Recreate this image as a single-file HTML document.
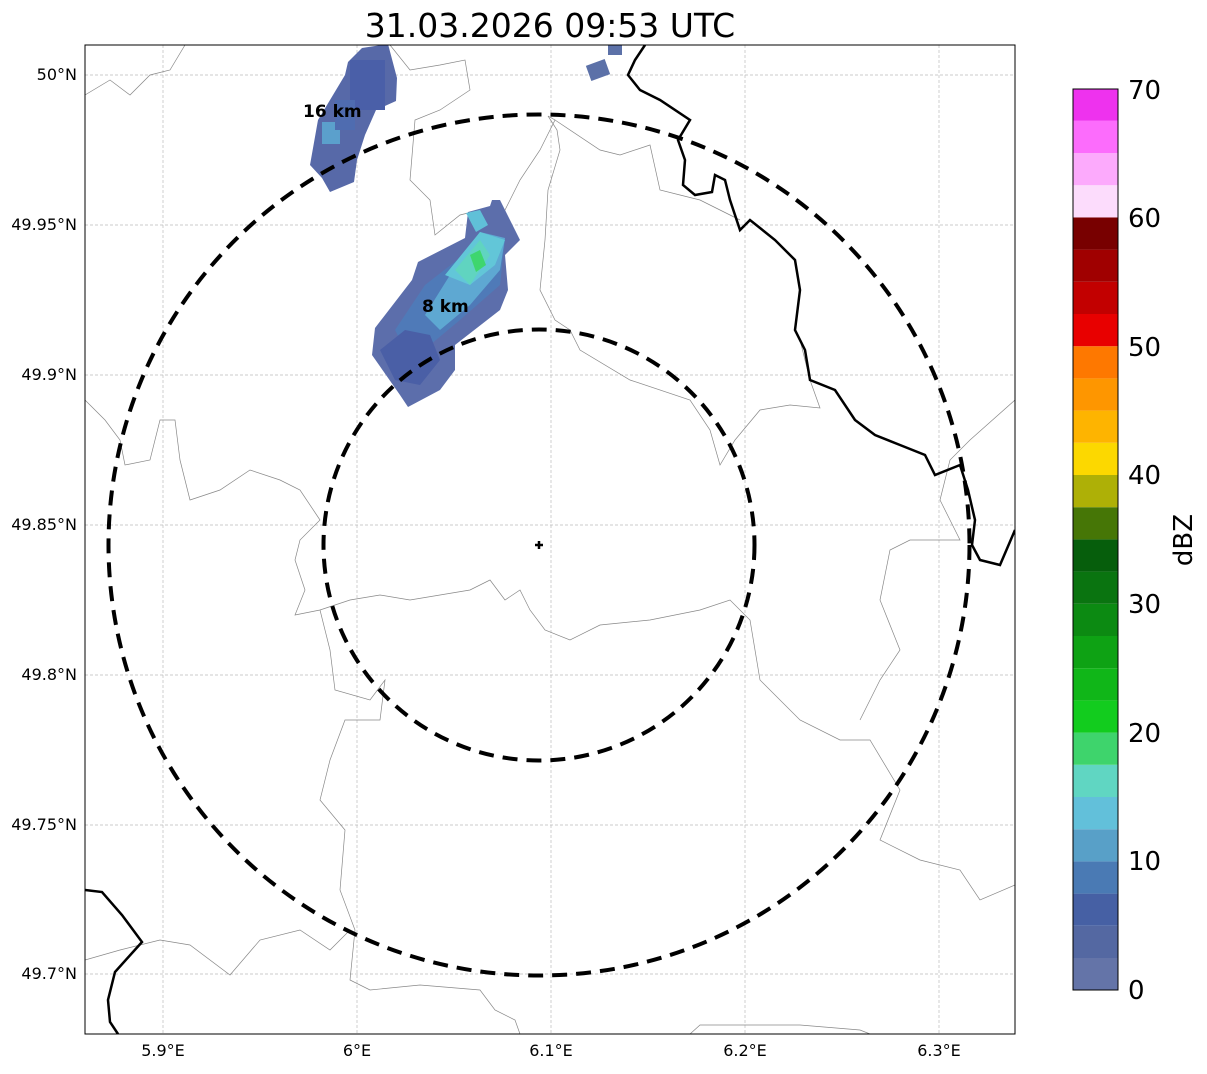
<!DOCTYPE html>
<html><head><style>
body{margin:0;background:#fff;}
</style></head><body>
<svg width="1207" height="1069" xmlns="http://www.w3.org/2000/svg" font-family="DejaVu Sans, Liberation Sans, sans-serif">
<rect width="1207" height="1069" fill="#fff"/>
<text x="550" y="37" font-size="33" text-anchor="middle">31.03.2026 09:53 UTC</text>
<clipPath id="c"><rect x="85" y="45" width="930" height="989"/></clipPath>
<g clip-path="url(#c)">
<g stroke="#bbb" stroke-width="0.7" stroke-dasharray="3,2">
<line x1="163" y1="45" x2="163" y2="1034"/><line x1="357" y1="45" x2="357" y2="1034"/><line x1="551" y1="45" x2="551" y2="1034"/><line x1="745" y1="45" x2="745" y2="1034"/><line x1="939" y1="45" x2="939" y2="1034"/>
<line x1="85" y1="75" x2="1015" y2="75"/><line x1="85" y1="225" x2="1015" y2="225"/><line x1="85" y1="375" x2="1015" y2="375"/><line x1="85" y1="525" x2="1015" y2="525"/><line x1="85" y1="675" x2="1015" y2="675"/><line x1="85" y1="825" x2="1015" y2="825"/><line x1="85" y1="974" x2="1015" y2="974"/>
</g>
<g fill="none" stroke="#888" stroke-width="0.7">
<path d="M85,95 L110,80 130,95 150,75 170,70 185,45"/>
<path d="M390,45 L410,70 440,65 465,60 470,90 440,110 415,120 410,180 430,200 435,235 460,215 480,210 505,210 520,180 540,150 555,120 548,116 557,130 560,150 548,190 545,240 540,290 555,320 570,330 580,350 630,380 690,400 710,430 720,465 735,440 760,410 790,405 820,408 810,380 800,340"/>
<path d="M555,120 L600,150 620,155 650,145 660,190 680,195 700,200 720,210 740,220"/>
<path d="M85,400 L105,420 120,440 125,465 150,460 160,420 175,420 180,460 190,500 220,490 250,470 280,480 300,490 320,520 300,540 295,560 305,590 295,615 320,610 350,600 380,595 410,600 440,595 470,590 490,580 505,600 520,590 530,610 545,630 570,640 600,625 650,620 700,610 730,600 750,620 760,680 800,720 840,740 870,740 900,790 880,840 920,860 960,870 980,900 1015,885"/>
<path d="M1015,400 L970,440 950,460 940,500 960,540 910,540 890,550 880,600 900,650 880,680 860,720"/>
<path d="M320,610 L330,650 335,690 370,700 385,680 380,720 345,720 330,760 320,800 345,830 340,890 355,930 350,980 370,990 420,985 480,990 495,1010 515,1020 520,1034"/>
<path d="M85,960 L120,950 160,940 190,945 230,975 260,940 300,930 330,950 350,930"/>
<path d="M690,1034 L700,1025 750,1025 800,1025 860,1030 870,1034"/>
</g>
<g fill="none" stroke="#000" stroke-width="2.5">
<path d="M645,45 L635,60 628,75 640,90 660,100 690,120 678,140 685,160 683,185 695,195 712,192 715,175 725,180 730,200 740,230 750,220 775,240 795,260 800,290 795,330 805,350 810,380 835,390 855,420 875,435 900,445 925,455 935,475 960,465 968,490 975,520 972,545 980,560 1000,565 1015,530"/>
<path d="M85,890 L102,892 122,915 142,942 115,972 108,1000 110,1022 118,1034"/>
</g>
<g>
<polygon points="362,48 388,44 397,78 396,101 376,110 365,135 357,160 354,182 330,192 322,178 310,165 318,120 345,75 348,62" fill="#5769a8"/>
<rect x="350" y="60" width="35" height="50" fill="#4a5fa8"/>
<rect x="322" y="122" width="18" height="22" fill="#5ba0cc"/>
<rect x="335" y="100" width="20" height="30" fill="#4f6cb0"/>
<rect x="588" y="62" width="20" height="16" fill="#5c71a8" transform="rotate(-20 598 70)"/>
<rect x="608" y="43" width="14" height="12" fill="#5c71a8"/>
<polygon points="375,328 412,280 418,262 465,238 468,212 490,206 492,200 500,200 520,240 505,255 508,290 500,310 455,345 455,370 440,390 408,407 400,395 372,355" fill="#5c6eab"/>
<polygon points="395,330 425,285 470,250 505,240 500,285 460,320 430,345 410,360" fill="#4f7ab8"/>
<polygon points="425,315 450,275 480,232 505,238 500,270 470,305 440,330" fill="#5ea8d2"/>
<polygon points="445,275 480,232 505,240 495,265 470,285" fill="#62c6d8"/>
<polygon points="455,270 480,240 490,255 470,285" fill="#60d4c0"/>
<polygon points="470,255 480,250 486,265 476,272" fill="#3ed66e"/>
<polygon points="380,350 405,330 430,335 440,360 420,385 395,380" fill="#4a5fa6"/>
<polygon points="466,213 480,210 488,225 476,232" fill="#60c0d8"/>
</g>
<g fill="none" stroke="#000" stroke-width="4" stroke-dasharray="15,9">
<circle cx="539" cy="545" r="430.5"/>
<circle cx="539" cy="545" r="215.5"/>
</g>
<path d="M535,545 h8 M539,541 v8" stroke="#000" stroke-width="2.5"/>
<text x="303" y="117" font-size="17" font-weight="bold">16 km</text>
<text x="422" y="312" font-size="17" font-weight="bold">8 km</text>
</g>
<rect x="85" y="45" width="930" height="989" fill="none" stroke="#000" stroke-width="1"/>
<g font-size="16" text-anchor="end">
<text x="77" y="80">50°N</text><text x="77" y="230">49.95°N</text><text x="77" y="380">49.9°N</text><text x="77" y="530">49.85°N</text><text x="77" y="680">49.8°N</text><text x="77" y="830">49.75°N</text><text x="77" y="979">49.7°N</text>
</g>
<g font-size="16" text-anchor="middle">
<text x="163" y="1056">5.9°E</text><text x="357" y="1056">6°E</text><text x="551" y="1056">6.1°E</text><text x="745" y="1056">6.2°E</text><text x="939" y="1056">6.3°E</text>
</g>
<g>
<rect x="1073" y="958" width="45" height="32.2" fill="#6474a8"/>
<rect x="1073" y="925.8" width="45" height="32.2" fill="#5468a2"/>
<rect x="1073" y="893.6" width="45" height="32.2" fill="#4660a4"/>
<rect x="1073" y="861.4" width="45" height="32.2" fill="#4a7ab4"/>
<rect x="1073" y="829.2" width="45" height="32.2" fill="#58a0c8"/>
<rect x="1073" y="797" width="45" height="32.2" fill="#62c0da"/>
<rect x="1073" y="764.8" width="45" height="32.2" fill="#60d6c2"/>
<rect x="1073" y="732.6" width="45" height="32.2" fill="#3ed46c"/>
<rect x="1073" y="700.4" width="45" height="32.2" fill="#12cc1e"/>
<rect x="1073" y="668.2" width="45" height="32.2" fill="#10b618"/>
<rect x="1073" y="636" width="45" height="32.2" fill="#0ea214"/>
<rect x="1073" y="603.8" width="45" height="32.2" fill="#0c8a12"/>
<rect x="1073" y="571.6" width="45" height="32.2" fill="#0a7410"/>
<rect x="1073" y="539.4" width="45" height="32.2" fill="#065e0c"/>
<rect x="1073" y="507.2" width="45" height="32.2" fill="#467606"/>
<rect x="1073" y="475" width="45" height="32.2" fill="#aeb006"/>
<rect x="1073" y="442.8" width="45" height="32.2" fill="#fcd800"/>
<rect x="1073" y="410.6" width="45" height="32.2" fill="#feb400"/>
<rect x="1073" y="378.4" width="45" height="32.2" fill="#fe9600"/>
<rect x="1073" y="346.2" width="45" height="32.2" fill="#fe7800"/>
<rect x="1073" y="314" width="45" height="32.2" fill="#e80000"/>
<rect x="1073" y="281.8" width="45" height="32.2" fill="#c20000"/>
<rect x="1073" y="249.6" width="45" height="32.2" fill="#a00000"/>
<rect x="1073" y="217.4" width="45" height="32.2" fill="#780000"/>
<rect x="1073" y="185.2" width="45" height="32.2" fill="#fcdcfc"/>
<rect x="1073" y="153" width="45" height="32.2" fill="#fcaafc"/>
<rect x="1073" y="120.8" width="45" height="32.2" fill="#fc6cfc"/>
<rect x="1073" y="89" width="45" height="31.8" fill="#ee32ee"/>
<rect x="1073" y="89" width="45" height="901" fill="none" stroke="#000" stroke-width="1"/>
</g>
<g font-size="26">
<text x="1128" y="999">0</text><text x="1128" y="870">10</text><text x="1128" y="742">20</text><text x="1128" y="613">30</text><text x="1128" y="484">40</text><text x="1128" y="356">50</text><text x="1128" y="227">60</text><text x="1128" y="99">70</text>
</g>
<text x="1192" y="540" font-size="26" text-anchor="middle" transform="rotate(-90 1192 540)">dBZ</text>
</svg>
</body></html>
